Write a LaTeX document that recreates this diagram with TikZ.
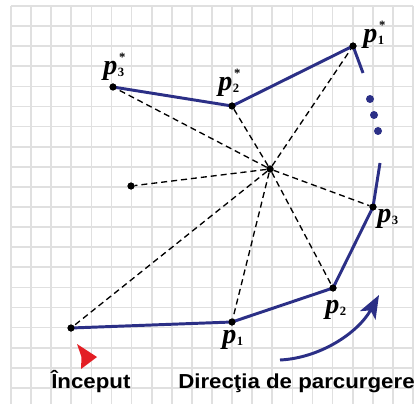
\documentclass[tikz,border=0pt]{standalone}
\usepackage{fontspec}
\setmainfont{Liberation Serif}
\newfontfamily\capfont[FakeStretch=1.10]{Liberation Sans}
\usetikzlibrary{arrows.meta}
\definecolor{rt}{HTML}{2B2F86}
\definecolor{rd}{HTML}{E31E24}
\definecolor{gl}{HTML}{E0E0E0}
\newcommand{\pfont}{\fontsize{20}{20}\selectfont\bfseries\itshape}
\newcommand{\idxfont}{\fontsize{9}{9}\selectfont\bfseries\upshape}
\newcommand{\plab}[2]{{\pfont p}\kern0.4pt\rlap{\kern0.8pt\raisebox{9.5pt}{\idxfont #2}}\raisebox{-1.6pt}{\idxfont #1}}

\begin{document}
\begin{tikzpicture}[x=0.25mm,y=-0.25mm,
    gridline/.style={gl, line width=1.2pt},
    ray/.style={dashed, line width=0.95pt, dash pattern=on 4.3pt off 2.8pt},
    route/.style={rt, line width=2.1pt},
    pt/.style={circle, fill=black, inner sep=0pt, minimum size=1.75mm},
    bdot/.style={circle, fill=rt, inner sep=0pt, minimum size=2mm},
    plabel/.style={anchor=base west, inner sep=0pt},
    caption/.style={anchor=base west, inner sep=0pt, font=\capfont\fontsize{14.4}{16}\selectfont\bfseries}]
  \useasboundingbox[fill=white] (0,0) rectangle (418,404);
  % grid
  \foreach \i in {0,...,20}
    \draw[gridline] ({11+20.1*\i},6) -- ({11+20.1*\i},404);
  \foreach \j in {0,...,19}
    \draw[gridline] (11,{6+20.1*\j}) -- (413,{6+20.1*\j});

  % points
  \node[pt] (c) at (270,169) {};
  \node[pt] (s) at (71,328) {};
  \node[pt] (p1) at (232,322) {};
  \node[pt] (p2) at (333,288) {};
  \node[pt] (p3) at (373,207) {};
  \node[pt] (q1) at (353,46) {};
  \node[pt] (q2) at (232,106) {};
  \node[pt] (q3) at (113,87) {};
  \node[pt] (o) at (131,186) {};
  \coordinate (e3) at (380,163);
  \coordinate (e1) at (363,73);

  % rays from the centre
  \foreach \n in {s,p1,p2,p3,q1,q2,q3,o}
    \draw[ray] (c) -- (\n);

  % route
  \draw[route] (s.center) -- (p1.center) -- (p2.center) -- (p3.center) -- (e3);
  \draw[route] (q3.center) -- (q2.center) -- (q1.center) -- (e1);
  \foreach \n in {c,s,p1,p2,p3,q1,q2,q3,o}
    \node[pt] at (\n) {};
  \node[bdot] (b1) at (370,99) {};
  \node[bdot] (b2) at (374,115) {};
  \node[bdot] (b3) at (378,131) {};

  % labels
  \node[plabel] (lq3) at (103,74.5) {\plab{3}{*}};
  \node[plabel] (lq2) at (218,90.5) {\plab{2}{*}};
  \node[plabel] (lq1) at (363,42.5) {\plab{1}{*}};
  \node[plabel] (lp3) at (377,222) {\plab{3}{}};
  \node[plabel] (lp2) at (325,313.5) {\plab{2}{}};
  \node[plabel] (lp1) at (222,343.5) {\plab{1}{}};

  % start mark and direction
  \fill[rd] (77,344) -- (97,357) -- (81,369) -- (81.5,357) -- cycle;
  \coordinate (a0) at (280,360);
  \coordinate (a1) at (379,295);
  \draw[route, -{Stealth[length=5.8mm, width=4.4mm, inset=1.4mm]}]
    (a0) .. controls (320,358) and (358,333) .. (a1);
  \node[caption] (start) at (51,388) {Început};
  \node[caption] (dir) at (178,388) {Direcţia de parcurgere};
\end{tikzpicture}
\end{document}
